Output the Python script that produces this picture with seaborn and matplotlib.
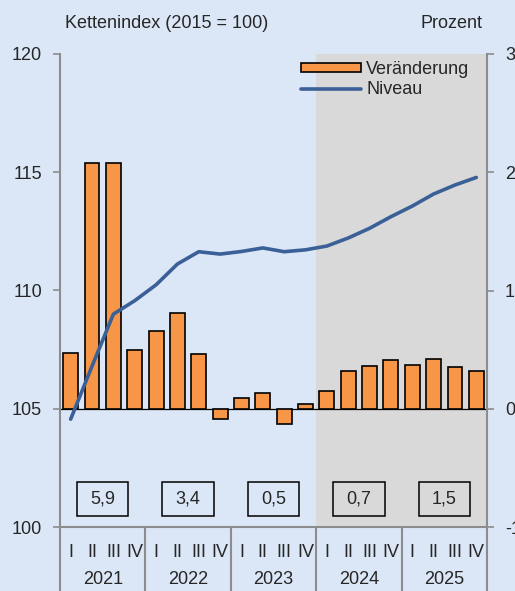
import numpy as np
import pandas as pd
import seaborn as sns
import matplotlib.pyplot as plt
from matplotlib.patches import Rectangle, Patch
from matplotlib.lines import Line2D

# Daten
jahre = ['2021', '2022', '2023', '2024', '2025']
quartale = ['I', 'II', 'III', 'IV']
veraenderung = [0.47, 2.08, 2.08, 0.50, 0.66, 0.81, 0.46, -0.09,
                0.09, 0.13, -0.13, 0.04, 0.15, 0.32, 0.36, 0.41,
                0.37, 0.42, 0.35, 0.32]
niveau = [104.56, 106.8, 109.0, 109.57, 110.24, 111.12, 111.64, 111.54,
          111.65, 111.80, 111.64, 111.72, 111.88, 112.22, 112.63, 113.12,
          113.57, 114.08, 114.46, 114.78]
jahresrate = ['5,9', '3,4', '0,5', '0,7', '1,5']

bg = '#DBE7F6'
orange = '#F79646'
blau = '#3A6097'
grau = '#8C8C8C'

sns.set_style('white')
plt.rcParams['font.family'] = ['Liberation Sans', 'DejaVu Sans']
plt.rcParams['font.size'] = 13

n = len(veraenderung)
df = pd.DataFrame({'pos': np.arange(n), 'veraenderung': veraenderung, 'niveau': niveau})

fig = plt.figure(figsize=(5.15, 5.91), dpi=100, facecolor=bg)
ax = fig.add_axes([60 / 515, 1 - 527 / 591, 427 / 515, 473 / 591])
ax.set_facecolor(bg)

# Prognosezeitraum
ax.axvspan(11.5, 19.5, color='#D9D9D9', zorder=0, lw=0)

# Balken (rechte Achse, Prozent)
sns.barplot(data=df, x='pos', y='veraenderung', ax=ax, color=orange,
            saturation=1, width=0.7, edgecolor='black', linewidth=1.2, zorder=3)
ax.axhline(0, color='black', lw=0.9, zorder=2)
ax.set_ylim(-1, 3)
ax.set_xlim(-0.5, n - 0.5)

# Linie (linke Achse, Kettenindex)
ax2 = ax.twinx()
ax2.set_facecolor('none')
sns.lineplot(data=df, x='pos', y='niveau', ax=ax2, color=blau, lw=2.6)
ax2.set_ylim(100, 120)
ax2.set_yticks([100, 105, 110, 115, 120])
ax2.yaxis.tick_left()
ax2.set_xlim(-0.5, n - 0.5)

ax.yaxis.tick_right()
ax.set_yticks([-1, 0, 1, 2, 3])
ax.set_yticklabels(['-1', '0', '1', '2', '3'])

for a in (ax, ax2):
    a.set_xlabel('')
    a.set_ylabel('')
    for s in a.spines.values():
        s.set_visible(False)
for s in ('left', 'right', 'bottom'):
    ax.spines[s].set_visible(True)
    ax.spines[s].set_color(grau)
    ax.spines[s].set_linewidth(1.5)

ax.tick_params(axis='y', which='both', right=True, left=False, labelright=True,
               labelleft=False, direction='out', length=5, width=1.2, color=grau,
               pad=8, labelsize=13)
ax2.tick_params(axis='y', which='both', left=True, right=False, labelleft=True,
                labelright=False, direction='out', length=5, width=1.2, color=grau,
                pad=8, labelsize=13)

# x-Achse: Quartale und Jahre
ax.set_xticks(np.arange(n))
ax.set_xticklabels(quartale * len(jahre))
ax.tick_params(axis='x', length=0, pad=12, labelsize=13)

trans = ax.get_xaxis_transform()
for k in range(len(jahre) + 1):
    xk = 4 * k - 0.5
    ax.plot([xk, xk], [0, -0.14], transform=trans, color=grau, lw=1.5, clip_on=False)
for k, j in enumerate(jahre):
    ax.text(4 * k + 1.5, -0.11, j, transform=trans, ha='center', va='center', fontsize=13)
    # Jahresraten-Kästen
    ax.add_patch(Rectangle((4 * k + 1.5 - 1.2, 0.023), 2.4, 0.072, transform=trans,
                           facecolor='none', edgecolor='black', lw=1.1, zorder=4))
    ax.text(4 * k + 1.5, 0.059, jahresrate[k], transform=trans, ha='center',
            va='center', fontsize=13, zorder=5)

# Achsentitel
fig.text(65 / 515, 1 - 23 / 591, 'Kettenindex (2015 = 100)', ha='left', va='center', fontsize=13)
fig.text(483 / 515, 1 - 23 / 591, 'Prozent', ha='right', va='center', fontsize=13)

# Legende
handles = [Patch(facecolor=orange, edgecolor='black', lw=1.2),
           Line2D([0], [0], color=blau, lw=2.6)]
leg = ax2.legend(handles, ['Veränderung', 'Niveau'], loc='upper left',
                 bbox_to_anchor=(0.548, 1.0), frameon=False, fontsize=13,
                 handlelength=3.3, handleheight=0.35, handletextpad=0.3,
                 labelspacing=0.15, borderaxespad=0)

fig.savefig('out.png', dpi=100, facecolor=bg)
